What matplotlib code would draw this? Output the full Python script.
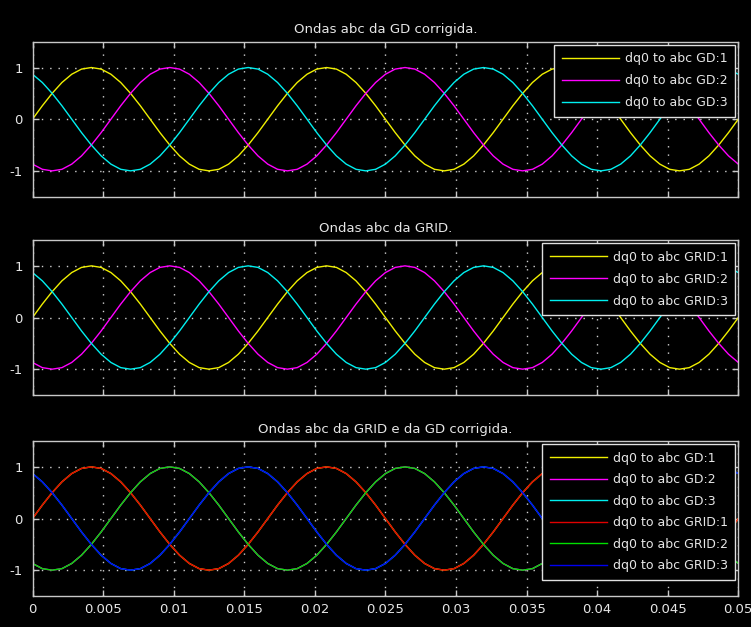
"""Three-phase abc waveforms (GD corrected vs GRID), scope-style."""
import matplotlib
matplotlib.use("Agg")
import matplotlib.pyplot as plt
import numpy as np

# scope samples: 73 points over 0..0.05 s (60 Hz, 15 deg per sample)
time = np.linspace(0.0, 0.05, 73)

phase_a = [0, 0.26, 0.5, 0.71, 0.87, 0.97, 1, 0.97, 0.87, 0.71, 0.5, 0.26,
           0, -0.26, -0.5, -0.71, -0.87, -0.97, -1, -0.97, -0.87, -0.71, -0.5, -0.26,
           0, 0.26, 0.5, 0.71, 0.87, 0.97, 1, 0.97, 0.87, 0.71, 0.5, 0.26,
           0, -0.26, -0.5, -0.71, -0.87, -0.97, -1, -0.97, -0.87, -0.71, -0.5, -0.26,
           0, 0.26, 0.5, 0.71, 0.87, 0.97, 1, 0.97, 0.87, 0.71, 0.5, 0.26,
           0, -0.26, -0.5, -0.71, -0.87, -0.97, -1, -0.97, -0.87, -0.71, -0.5, -0.26,
           0]
phase_b = [-0.87, -0.97, -1, -0.97, -0.87, -0.71, -0.5, -0.26,
           0, 0.26, 0.5, 0.71, 0.87, 0.97, 1, 0.97, 0.87, 0.71, 0.5, 0.26,
           0, -0.26, -0.5, -0.71, -0.87, -0.97, -1, -0.97, -0.87, -0.71, -0.5, -0.26,
           0, 0.26, 0.5, 0.71, 0.87, 0.97, 1, 0.97, 0.87, 0.71, 0.5, 0.26,
           0, -0.26, -0.5, -0.71, -0.87, -0.97, -1, -0.97, -0.87, -0.71, -0.5, -0.26,
           0, 0.26, 0.5, 0.71, 0.87, 0.97, 1, 0.97, 0.87, 0.71, 0.5, 0.26,
           0, -0.26, -0.5, -0.71, -0.87]
phase_c = [0.87, 0.71, 0.5, 0.26,
           0, -0.26, -0.5, -0.71, -0.87, -0.97, -1, -0.97, -0.87, -0.71, -0.5, -0.26,
           0, 0.26, 0.5, 0.71, 0.87, 0.97, 1, 0.97, 0.87, 0.71, 0.5, 0.26,
           0, -0.26, -0.5, -0.71, -0.87, -0.97, -1, -0.97, -0.87, -0.71, -0.5, -0.26,
           0, 0.26, 0.5, 0.71, 0.87, 0.97, 1, 0.97, 0.87, 0.71, 0.5, 0.26,
           0, -0.26, -0.5, -0.71, -0.87, -0.97, -1, -0.97, -0.87, -0.71, -0.5, -0.26,
           0, 0.26, 0.5, 0.71, 0.87, 0.97, 1, 0.97, 0.87]

titles = ["Ondas abc da GD corrigida.", "Ondas abc da GRID.",
          "Ondas abc da GRID e da GD corrigida."]
gd_labels = ["dq0 to abc GD:1", "dq0 to abc GD:2", "dq0 to abc GD:3"]
grid_labels = ["dq0 to abc GRID:1", "dq0 to abc GRID:2", "dq0 to abc GRID:3"]
x_ticks = [0, 0.005, 0.01, 0.015, 0.02, 0.025, 0.03, 0.035, 0.04, 0.045, 0.05]
x_ticklabels = ["0", "0.005", "0.01", "0.015", "0.02", "0.025", "0.03",
                "0.035", "0.04", "0.045", "0.05"]
y_ticks = [-1, 0, 1]

YMC = ["#f0f000", "#ff00ff", "#00f0f0"]
RGB = ["#e00000", "#00e000", "#0000f0"]
FG = "#e6e6e6"

plt.rcParams["font.family"] = ["DejaVu Sans"]
fig = plt.figure(figsize=(7.51, 6.27), dpi=100, facecolor="black")

left, width, height = 0.0433, 0.9398, 0.2472
bottoms = [0.6863, 0.370, 0.0494]
phases = [phase_a, phase_b, phase_c]


def style_axes(ax, title, show_xlabels):
    ax.set_facecolor("black")
    ax.set_xlim(0, 0.05)
    ax.set_ylim(-1.5, 1.5)
    ax.set_xticks(x_ticks)
    ax.set_yticks(y_ticks)
    ax.set_yticklabels([str(v) for v in y_ticks])
    if show_xlabels:
        ax.set_xticklabels(x_ticklabels)
    else:
        ax.set_xticklabels([])
    ax.tick_params(direction="in", length=4, width=1, colors="#c8c8c8",
                   labelcolor=FG, labelsize=9.5, top=True, right=True)
    ax.tick_params(axis="y", pad=7)
    ax.tick_params(axis="x", pad=5)
    for sp in ax.spines.values():
        sp.set_color("#c8c8c8")
        sp.set_linewidth(1)
    ax.grid(True, color="#d0d0d0", linestyle=(0, (1, 5)), linewidth=1)
    ax.set_title(title, color=FG, fontsize=9.5, pad=6)


def add_legend(ax, spacing):
    leg = ax.legend(loc="upper right", fontsize=9, handlelength=4.6,
                    handletextpad=0.45, labelspacing=spacing, borderpad=0.6,
                    borderaxespad=0.25, fancybox=False, framealpha=1,
                    facecolor="black", edgecolor="#e0e0e0")
    leg.get_frame().set_linewidth(1)
    for txt in leg.get_texts():
        txt.set_color(FG)


# panel 1: corrected GD
ax1 = fig.add_axes([left, bottoms[0], width, height])
for vals, col, lab in zip(phases, YMC, gd_labels):
    ax1.plot(time, vals, color=col, linewidth=1, label=lab)
style_axes(ax1, titles[0], False)
add_legend(ax1, 0.72)

# panel 2: GRID
ax2 = fig.add_axes([left, bottoms[1], width, height])
for vals, col, lab in zip(phases, YMC, grid_labels):
    ax2.plot(time, vals, color=col, linewidth=1, label=lab)
style_axes(ax2, titles[1], False)
add_legend(ax2, 0.72)

# panel 3: both, GRID drawn over GD
ax3 = fig.add_axes([left, bottoms[2], width, height])
for vals, col, lab in zip(phases, YMC, gd_labels):
    ax3.plot(time, vals, color=col, linewidth=1, label=lab)
for vals, col, lab in zip(phases, RGB, grid_labels):
    ax3.plot(time, vals, color=col, linewidth=1, label=lab)
style_axes(ax3, titles[2], True)
add_legend(ax3, 0.68)

fig.savefig("out.png", dpi=100, facecolor="black")
